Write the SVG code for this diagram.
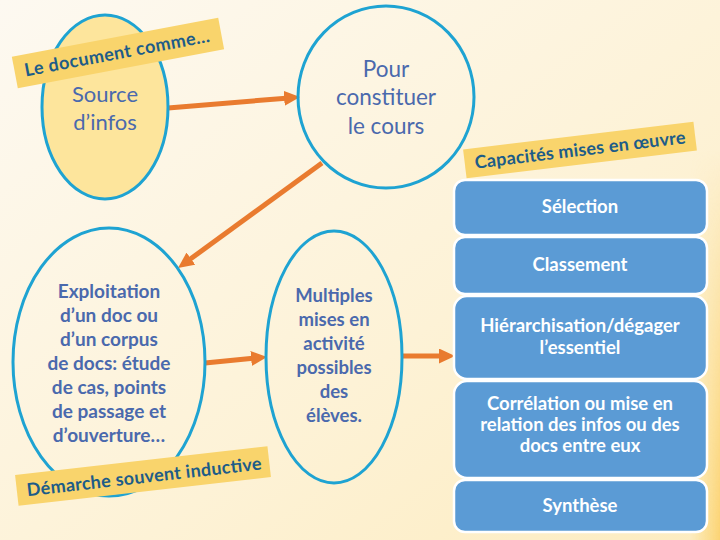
<svg xmlns="http://www.w3.org/2000/svg" width="720" height="540" viewBox="0 0 720 540">
<defs>
<linearGradient id="bg" x1="0" y1="0" x2="1" y2="1">
<stop offset="0" stop-color="#fdf9f1"/>
<stop offset="0.6" stop-color="#fdf2d6"/>
<stop offset="1" stop-color="#fdecc0"/>
</linearGradient>
<linearGradient id="edge" x1="0" y1="0" x2="1" y2="0">
<stop offset="0" stop-color="#fbd873" stop-opacity="0"/>
<stop offset="1" stop-color="#fbd06a" stop-opacity="0.9"/>
</linearGradient>
<linearGradient id="edgev" x1="0" y1="0" x2="0" y2="1">
<stop offset="0" stop-color="#fff" stop-opacity="0"/>
<stop offset="1" stop-color="#fff" stop-opacity="1"/>
</linearGradient>
<mask id="edgemask"><rect x="690" y="150" width="30" height="390" fill="url(#edgev)"/></mask>
<marker id="ah" markerUnits="userSpaceOnUse" markerWidth="16" markerHeight="15" refX="2" refY="7.5" orient="auto">
<path d="M0,0 L16,7.5 L0,15 z" fill="#e97b2f"/>
</marker>
</defs>
<style>
.oval{fill:none;stroke:#1ea3d2;stroke-width:3}
.ntext{font-family:Lato,"Open Sans",sans-serif;fill:#4a69ad;text-anchor:middle}
.banner{fill:#f9d46c}
.btext{font-family:Lato,"Open Sans",sans-serif;font-weight:bold;fill:#1d5c88;font-size:18px}
.box{fill:#5b9bd5;stroke:#ffffff;stroke-width:2.5}
.boxt{font-family:Lato,"Open Sans",sans-serif;font-weight:bold;fill:#ffffff;font-size:18.5px;text-anchor:middle}
.arrow{stroke:#e97b2f;stroke-width:5;fill:none;marker-end:url(#ah)}
</style>
<rect width="720" height="540" fill="url(#bg)"/>
<rect x="690" y="150" width="30" height="390" fill="url(#edge)" mask="url(#edgemask)"/>

<g id="connectors">
<line class="arrow" x1="168" y1="108" x2="286.1" y2="98.2"/>
<line class="arrow" x1="322" y1="163" x2="189.3" y2="259.8"/>
<line class="arrow" x1="205" y1="363" x2="253.1" y2="358.3"/>
<line class="arrow" x1="402" y1="356" x2="441" y2="356"/>
</g>

<g id="source">
<ellipse cx="105" cy="107" rx="63" ry="92" fill="#fde59c" stroke="#1ea3d2" stroke-width="3"/>
<text class="ntext" font-size="22" x="105" y="102">Source</text>
<text class="ntext" font-size="22" x="105" y="130">d’infos</text>
</g>

<g id="banner-document">
<g transform="translate(118,53) rotate(-10.7)">
<rect class="banner" x="-105" y="-16" width="210" height="32"/>
<text class="btext" x="-95" y="6" textLength="188">Le document comme…</text>
</g>
</g>

<g id="pour">
<ellipse class="oval" cx="386" cy="97" rx="88" ry="91"/>
<text class="ntext" font-size="22.5" x="386" y="77">Pour</text>
<text class="ntext" font-size="22.5" x="386" y="105">constituer</text>
<text class="ntext" font-size="22.5" x="386" y="134">le cours</text>
</g>

<g id="exploitation">
<ellipse class="oval" cx="109" cy="362" rx="96" ry="134"/>
<g class="ntext" font-size="19" font-weight="bold">
<text x="109" y="298">Exploitation</text>
<text x="109" y="322">d’un doc ou</text>
<text x="109" y="346">d’un corpus</text>
<text x="109" y="370">de docs: étude</text>
<text x="109" y="394">de cas, points</text>
<text x="109" y="418">de passage et</text>
<text x="109" y="442">d’ouverture…</text>
</g>
</g>

<g id="banner-demarche">
<g transform="translate(143,476) rotate(-6.5)">
<rect class="banner" x="-127" y="-15.5" width="254" height="31"/>
<text class="btext" x="-117" y="7" font-size="19" textLength="236">Démarche souvent inductive</text>
</g>
</g>

<g id="multiples">
<ellipse class="oval" cx="334" cy="357" rx="68" ry="126"/>
<g class="ntext" font-size="18.5" font-weight="bold">
<text x="334" y="302">Multiples</text>
<text x="334" y="326">mises en</text>
<text x="334" y="350">activité</text>
<text x="334" y="374">possibles</text>
<text x="334" y="398">des</text>
<text x="334" y="422">élèves.</text>
</g>
</g>

<g id="banner-capacites">
<g transform="translate(580,150) rotate(-6.9)">
<rect class="banner" x="-116" y="-14.5" width="232" height="29"/>
<text class="btext" x="-106" y="6" textLength="212">Capacités mises en œuvre</text>
</g>
</g>

<g id="selection">
<rect class="box" x="454" y="180" width="253" height="55" rx="11"/>
<text class="boxt" x="580" y="213">Sélection</text>
</g>
<g id="classement">
<rect class="box" x="454" y="237" width="253" height="57" rx="11"/>
<text class="boxt" x="580" y="271">Classement</text>
</g>
<g id="hierarchisation">
<rect class="box" x="454" y="296" width="253" height="83" rx="13"/>
<text class="boxt" x="580" y="332">Hiérarchisation/dégager</text>
<text class="boxt" x="580" y="354">l’essentiel</text>
</g>
<g id="correlation">
<rect class="box" x="454" y="381" width="253" height="97" rx="13"/>
<text class="boxt" x="580" y="410">Corrélation ou mise en</text>
<text class="boxt" x="580" y="431">relation des infos ou des</text>
<text class="boxt" x="580" y="452">docs entre eux</text>
</g>
<g id="synthese">
<rect class="box" x="454" y="480" width="253" height="52" rx="11"/>
<text class="boxt" x="580" y="512">Synthèse</text>
</g>
</svg>
